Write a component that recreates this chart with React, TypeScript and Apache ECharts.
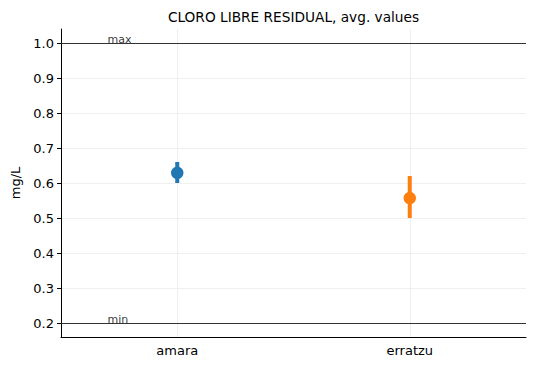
import React, { useEffect, useRef } from "react";
import * as echarts from "echarts";

const categories = ["amara", "erratzu"];
const means = [0.629, 0.557];
const lowers = [0.6, 0.5];
const uppers = [0.66, 0.62];
const colors = ["#1f77b4", "#ff7f0e"];
const yTicks = [0.2, 0.3, 0.4, 0.5, 0.6, 0.7, 0.8, 0.9, 1.0];
const limits = [
  { name: "max", value: 1.0 },
  { name: "min", value: 0.2 },
];
const textX = -0.3;
const titleText = "CLORO LIBRE RESIDUAL, avg. values";

export default function App() {
  const ref = useRef<HTMLDivElement>(null);
  useEffect(() => {
    const chart = echarts.init(ref.current!, null, { renderer: "svg" });
    const font = "DejaVu Sans";
    chart.setOption({
      animation: false,
      textStyle: { fontFamily: font },
      graphic: [
        {
          type: "text",
          x: 293.5,
          y: 17,
          style: {
            text: titleText,
            textAlign: "center",
            textVerticalAlign: "middle",
            fontSize: 13.7,
            fontFamily: font,
            fill: "#000",
          },
        },
      ],
      grid: { left: 61, right: 10, top: 29, bottom: 34 },
      xAxis: [
        {
          type: "category",
          data: categories,
          boundaryGap: true,
          axisLine: { onZero: false, lineStyle: { color: "#000", width: 1 } },
          axisTick: { alignWithLabel: true, length: 4, lineStyle: { color: "#000" } },
          axisLabel: { color: "#000", fontSize: 13, margin: 7, fontFamily: font },
          splitLine: { show: false },
        },
        {
          type: "value",
          min: -0.5,
          max: 1.5,
          show: false,
          axisLine: { onZero: false },
          splitLine: { show: false },
        },
      ],
      yAxis: {
        type: "value",
        min: 0.16,
        max: 1.04,
        name: "mg/L",
        nameLocation: "middle",
        nameRotate: 90,
        nameGap: 38,
        nameTextStyle: { color: "#000", fontSize: 13, fontFamily: font },
        axisLine: { show: true, onZero: false, lineStyle: { color: "#000", width: 1 } },
        axisTick: { show: true, length: 4, lineStyle: { color: "#000" }, customValues: yTicks },
        axisLabel: {
          color: "#000",
          fontSize: 13,
          margin: 7,
          fontFamily: font,
          customValues: yTicks,
          formatter: (v: number) => v.toFixed(1),
        },
        splitLine: { show: false },
      },
      series: [
        {
          type: "line",
          xAxisIndex: 1,
          data: [],
          z: 0,
          markLine: {
            z: 0,
            silent: true,
            symbol: "none",
            label: { show: false },
            lineStyle: { color: "#ebebeb", width: 0.8, type: "solid" },
            data: [
              ...yTicks.map((v) => ({ yAxis: v })),
              ...categories.map((_, i) => ({ xAxis: i })),
            ],
          },
        },
        {
          type: "line",
          xAxisIndex: 1,
          data: [],
          z: 1,
          markLine: {
            z: 1,
            silent: true,
            symbol: "none",
            label: { show: false },
            lineStyle: { color: "#333", width: 1, type: "solid" },
            data: limits.map((l) => ({ yAxis: l.value })),
          },
        },
        {
          type: "custom",
          xAxisIndex: 1,
          z: 3,
          data: categories.map((_, i) => [i, lowers[i], uppers[i]]),
          renderItem: (params: any, api: any) => {
            const i = api.value(0);
            const p1 = api.coord([i, api.value(1)]);
            const p2 = api.coord([i, api.value(2)]);
            const w = 4;
            return {
              type: "rect",
              shape: { x: p1[0] - w / 2, y: p2[1], width: w, height: p1[1] - p2[1] },
              style: { fill: colors[params.dataIndex] },
            };
          },
        },
        {
          type: "scatter",
          xAxisIndex: 1,
          z: 4,
          symbol: "circle",
          symbolSize: 12.5,
          data: categories.map((_, i) => ({
            value: [i, means[i]],
            itemStyle: { color: colors[i], opacity: 1 },
          })),
        },
        {
          type: "scatter",
          xAxisIndex: 1,
          z: 6,
          symbolSize: 0,
          silent: true,
          itemStyle: { color: "#000" },
          data: limits.map((l) => ({
            value: [textX, l.value],
            name: l.name,
          })),
          label: {
            show: true,
            position: [0, 2],
            align: "left",
            verticalAlign: "bottom",
            formatter: (p: any) => p.name,
            fontSize: 11,
            color: "#000",
            textBorderWidth: 0,
            textBorderColor: "transparent",
            fontFamily: font,
          },
        },
      ],
    });
    return () => chart.dispose();
  }, []);
  return (
    <div
      ref={ref}
      style={{ position: "absolute", left: 0, top: 0, width: 536, height: 371 }}
    />
  );
}
